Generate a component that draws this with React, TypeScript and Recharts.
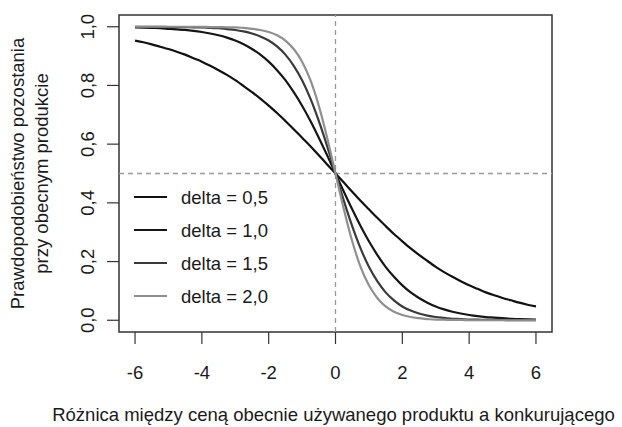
import React from "react";
import {
  LineChart,
  Line,
  XAxis,
  YAxis,
  ReferenceLine,
  ReferenceArea,
} from "recharts";

// price difference (x axis)
const priceDiff = [
  -6, -5.75, -5.5, -5.25, -5, -4.75, -4.5, -4.25, -4, -3.75, -3.5, -3.25, -3,
  -2.75, -2.5, -2.25, -2, -1.75, -1.5, -1.25, -1, -0.75, -0.5, -0.25, 0, 0.25,
  0.5, 0.75, 1, 1.25, 1.5, 1.75, 2, 2.25, 2.5, 2.75, 3, 3.25, 3.5, 3.75, 4,
  4.25, 4.5, 4.75, 5, 5.25, 5.5, 5.75, 6,
];

// probability of staying, one list per delta
const delta05 = [
  0.953, 0.947, 0.94, 0.932, 0.924, 0.915, 0.905, 0.893, 0.881, 0.867, 0.852,
  0.836, 0.818, 0.798, 0.777, 0.755, 0.731, 0.706, 0.679, 0.651, 0.622, 0.593,
  0.562, 0.531, 0.5, 0.469, 0.438, 0.407, 0.378, 0.349, 0.321, 0.294, 0.269,
  0.245, 0.223, 0.202, 0.182, 0.164, 0.148, 0.133, 0.119, 0.107, 0.095, 0.085,
  0.076, 0.068, 0.06, 0.053, 0.047,
];
const delta10 = [
  0.998, 0.997, 0.996, 0.995, 0.993, 0.991, 0.989, 0.986, 0.982, 0.977, 0.971,
  0.963, 0.953, 0.94, 0.924, 0.905, 0.881, 0.852, 0.818, 0.777, 0.731, 0.679,
  0.622, 0.562, 0.5, 0.438, 0.378, 0.321, 0.269, 0.223, 0.182, 0.148, 0.119,
  0.095, 0.076, 0.06, 0.047, 0.037, 0.029, 0.023, 0.018, 0.014, 0.011, 0.009,
  0.007, 0.005, 0.004, 0.003, 0.002,
];
const delta15 = [
  1.0, 1.0, 1.0, 1.0, 0.999, 0.999, 0.999, 0.998, 0.998, 0.996, 0.995, 0.992,
  0.989, 0.984, 0.977, 0.967, 0.953, 0.933, 0.905, 0.867, 0.818, 0.755, 0.679,
  0.593, 0.5, 0.407, 0.321, 0.245, 0.182, 0.133, 0.095, 0.068, 0.047, 0.033,
  0.023, 0.016, 0.011, 0.008, 0.005, 0.004, 0.002, 0.002, 0.001, 0.001, 0.001,
  0.0, 0.0, 0.0, 0.0,
];
const delta20 = [
  1.0, 1.0, 1.0, 1.0, 1.0, 1.0, 1.0, 1.0, 1.0, 0.999, 0.999, 0.998, 0.998,
  0.996, 0.993, 0.989, 0.982, 0.971, 0.953, 0.924, 0.881, 0.818, 0.731, 0.622,
  0.5, 0.378, 0.269, 0.182, 0.119, 0.076, 0.047, 0.029, 0.018, 0.011, 0.007,
  0.004, 0.002, 0.002, 0.001, 0.001, 0.0, 0.0, 0.0, 0.0, 0.0, 0.0, 0.0, 0.0,
  0.0,
];

const xTicks = [-6, -4, -2, 0, 2, 4, 6];
const yTicks = [0, 0.2, 0.4, 0.6, 0.8, 1.0];

const seriesInfo = [
  { key: "d05", label: "delta = 0,5", color: "#111111" },
  { key: "d10", label: "delta = 1,0", color: "#161616" },
  { key: "d15", label: "delta = 1,5", color: "#3a3a3a" },
  { key: "d20", label: "delta = 2,0", color: "#8f8f8f" },
];

const xTitle = "Różnica między ceną obecnie używanego produktu a konkurującego";
const yTitle = ["Prawdopodobieństwo pozostania", "przy obecnym produkcie"];

const chartData = priceDiff.map((x, i) => ({
  x,
  d05: delta05[i],
  d10: delta10[i],
  d15: delta15[i],
  d20: delta20[i],
}));

const FONT = "'Liberation Sans', Arial, Helvetica, sans-serif";
const TEXT = "#1a1a1a";
const FS = 18.5;

const XTick = (props: any) => {
  const { x, y, payload } = props;
  return (
    <text
      x={x}
      y={y + 26}
      textAnchor="middle"
      dominantBaseline="central"
      fontFamily={FONT}
      fontSize={FS}
      fill={TEXT}
    >
      {String(payload.value)}
    </text>
  );
};

const YTick = (props: any) => {
  const { x, y, payload } = props;
  const cx = x - 17;
  return (
    <text
      x={cx}
      y={y}
      transform={`rotate(-90 ${cx} ${y})`}
      textAnchor="middle"
      dominantBaseline="central"
      fontFamily={FONT}
      fontSize={FS}
      fill={TEXT}
    >
      {Number(payload.value).toFixed(1).replace(".", ",")}
    </text>
  );
};

const XTitle = (props: any) => {
  const vb = props.viewBox;
  return (
    <text
      x={vb.x + vb.width / 2 - 2}
      y={vb.y + 89}
      textAnchor="middle"
      fontFamily={FONT}
      fontSize={FS}
      fill={TEXT}
    >
      {xTitle}
    </text>
  );
};

const YTitle = (props: any) => {
  const vb = props.viewBox;
  const cy = vb.y + vb.height / 2;
  return (
    <g>
      {yTitle.map((line, i) => {
        const cx = 17 + i * 24;
        return (
          <text
            key={i}
            x={cx}
            y={cy}
            transform={`rotate(-90 ${cx} ${cy})`}
            textAnchor="middle"
            dominantBaseline="central"
            fontFamily={FONT}
            fontSize={FS}
            fill={TEXT}
          >
            {line}
          </text>
        );
      })}
    </g>
  );
};

// legend drawn inside the plot, like R's legend("left")
const PlotLegend = () => (
  <g>
    {seriesInfo.map((s, i) => {
      const y = 197 + i * 33;
      return (
        <g key={s.key}>
          <line x1={134} x2={167} y1={y} y2={y} stroke={s.color} strokeWidth={2.2} />
          <text
            x={181}
            y={y}
            dominantBaseline="central"
            fontFamily={FONT}
            fontSize={FS}
            fill={TEXT}
          >
            {s.label}
          </text>
        </g>
      );
    })}
  </g>
);

export default function App() {
  return (
    <div style={{ position: "absolute", left: 0, top: 0, background: "#fff" }}>
      <LineChart
        width={622}
        height={427}
        data={chartData}
        margin={{ top: 15, right: 70, bottom: 0, left: 0 }}
      >
        <XAxis
          dataKey="x"
          type="number"
          domain={[-6.48, 6.48]}
          ticks={xTicks}
          allowDataOverflow
          axisLine={false}
          tickSize={12}
          tickLine={{ stroke: "#333", strokeWidth: 1.2 }}
          tick={<XTick />}
          height={95}
          label={<XTitle />}
        />
        <YAxis
          type="number"
          domain={[-0.04, 1.04]}
          ticks={yTicks}
          allowDataOverflow
          axisLine={false}
          tickSize={12}
          tickLine={{ stroke: "#333", strokeWidth: 1.2 }}
          tick={<YTick />}
          width={119}
          label={<YTitle />}
        />
        <ReferenceArea
          x1={-6.48}
          x2={6.48}
          y1={-0.04}
          y2={1.04}
          fill="none"
          fillOpacity={0}
          stroke="#333"
          strokeWidth={1.5}
          ifOverflow="visible"
        />
        <ReferenceLine y={0.5} stroke="#999" strokeWidth={1.3} strokeDasharray="5 4" />
        <ReferenceLine x={0} stroke="#999" strokeWidth={1.3} strokeDasharray="5 4" />
        {seriesInfo.map((s) => (
          <Line
            key={s.key}
            dataKey={s.key}
            type="monotone"
            stroke={s.color}
            strokeWidth={2.2}
            dot={false}
            activeDot={false}
            isAnimationActive={false}
          />
        ))}
        <PlotLegend />
      </LineChart>
    </div>
  );
}
